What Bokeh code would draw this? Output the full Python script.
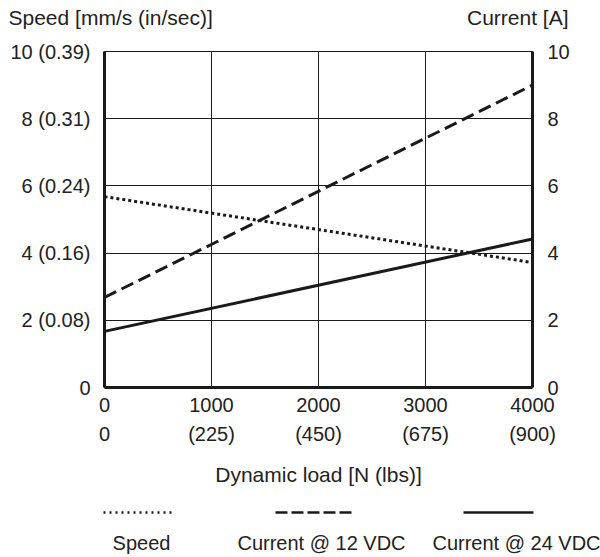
from bokeh.plotting import figure
from bokeh.models import LinearAxis, FixedTicker, Range1d
from bokeh.layouts import column
from bokeh.embed import file_html
from bokeh.resources import INLINE
from bokeh.core.properties import value

# ---------------- data ----------------
load_n = [0, 4000]
speed = [5.68, 3.72]
current_12vdc = [2.68, 9.0]
current_24vdc = [1.67, 4.42]

x_ticks = [0, 1000, 2000, 3000, 4000]
x_labels_n = ["0", "1000", "2000", "3000", "4000"]
x_labels_lbs = ["0", "(225)", "(450)", "(675)", "(900)"]
y_ticks = [0, 2, 4, 6, 8, 10]
y_labels_left = ["0", "2 (0.08)", "4 (0.16)", "6 (0.24)", "8 (0.31)", "10 (0.39)"]
y_labels_right = ["0", "2", "4", "6", "8", "10"]
legend_names = ["Speed", "Current @ 12 VDC", "Current @ 24 VDC"]
axis_titles = ["Speed [mm/s (in/sec)]", "Current [A]"]

FONT = "Liberation Sans"
INK = "#1a1a1a"
TXT = "#222222"
W = 600
TOP_H = 36
MAIN_H = 461
LEG_H = 557 - TOP_H - MAIN_H


def strip(h):
    f = figure(width=W, height=h, x_range=Range1d(0, W), y_range=Range1d(0, h),
               x_axis_type=None, y_axis_type=None, frame_align=False,
               output_backend="svg", toolbar_location=None,
               min_border=0, min_border_left=0, min_border_right=0,
               min_border_top=0, min_border_bottom=0)
    f.grid.visible = False
    f.outline_line_color = None
    return f


# ---------------- top strip: axis titles ----------------
top = strip(TOP_H)
top.text(x=[8], y=[TOP_H - 17], text=[axis_titles[0]], text_font=value(FONT),
         text_font_size="21px", text_color=TXT, text_align="left", text_baseline="middle")
top.text(x=[568], y=[TOP_H - 17], text=[axis_titles[1]], text_font=value(FONT),
         text_font_size="21px", text_color=TXT, text_align="right", text_baseline="middle")

# ---------------- main chart ----------------
p = figure(width=W, height=MAIN_H, x_range=Range1d(0, 4000), y_range=Range1d(0, 10),
           output_backend="svg", toolbar_location=None, frame_align=False,
           min_border_left=104, min_border_right=68, min_border_top=15, min_border_bottom=110)
p.outline_line_color = INK
p.outline_line_width = 1

for g, t in ((p.xgrid[0], x_ticks), (p.ygrid[0], y_ticks)):
    g.ticker = FixedTicker(ticks=t)
    g.grid_line_color = INK
    g.grid_line_width = 1
    g.grid_line_alpha = 1.0


def style_axis(ax, ticks, labels, size="20px"):
    ax.ticker = FixedTicker(ticks=ticks)
    ax.major_label_overrides = {t: l for t, l in zip(ticks, labels)}
    ax.major_tick_in = 0
    ax.major_tick_out = 0
    ax.minor_tick_in = 0
    ax.minor_tick_out = 0
    ax.major_tick_line_color = None
    ax.minor_tick_line_color = None
    ax.major_label_text_font = FONT
    ax.major_label_text_font_size = size
    ax.major_label_text_color = TXT


# bottom axis (N)
xa = p.xaxis[0]
style_axis(xa, x_ticks, x_labels_n)
xa.axis_line_width = 3
xa.axis_line_color = INK
xa.major_label_standoff = 10

# second bottom axis (lbs)
xb = LinearAxis()
style_axis(xb, x_ticks, x_labels_lbs)
xb.axis_line_color = None
xb.major_label_standoff = 8
xb.axis_label = "Dynamic load [N (lbs)]"
xb.axis_label_text_font = FONT
xb.axis_label_text_font_size = "21px"
xb.axis_label_text_font_style = "normal"
xb.axis_label_text_color = TXT
xb.axis_label_standoff = 15
p.add_layout(xb, "below")

# left axis
ya = p.yaxis[0]
style_axis(ya, y_ticks, y_labels_left)
ya.axis_line_width = 3
ya.axis_line_color = INK
ya.major_label_standoff = 14

# right axis
yr = LinearAxis()
style_axis(yr, y_ticks, y_labels_right)
yr.axis_line_width = 3
yr.axis_line_color = INK
yr.major_label_standoff = 15
p.add_layout(yr, "right")

# data lines
p.line(load_n, speed, line_color=INK, line_width=3, line_dash="3 3")
p.line(load_n, current_12vdc, line_color=INK, line_width=3, line_dash="13 6")
p.line(load_n, current_24vdc, line_color=INK, line_width=3)

# ---------------- legend strip ----------------
lg = strip(LEG_H)
sample_y = LEG_H - 15
text_y = LEG_H - 45
samples = [((103, 173), "2 4", 2.5, 141),
           ((275, 351), "12 4", 2.5, 321),
           ((463, 533), "solid", 2.5, 516)]
for name, ((x0, x1), dash, lw, tx) in zip(legend_names, samples):
    lg.line([x0, x1], [sample_y, sample_y], line_color=INK, line_width=lw, line_dash=dash)
    lg.text(x=[tx], y=[text_y], text=[name], text_font=value(FONT), text_font_size="20px",
            text_color=TXT, text_align="center", text_baseline="middle")

layout = column(top, p, lg, spacing=0)
open("out.html", "w").write(file_html(layout, INLINE))
